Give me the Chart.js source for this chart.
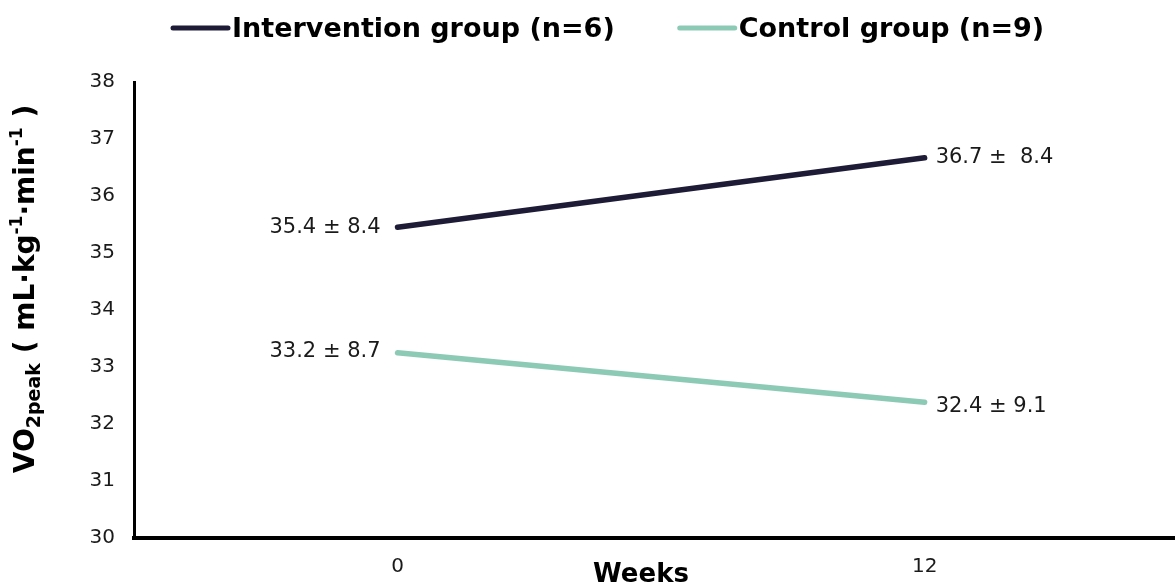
<!DOCTYPE html>
<html>
<head>
<meta charset="utf-8">
<script src="https://cdn.jsdelivr.net/npm/chart.js@4.4.0/dist/chart.umd.min.js"></script>
<style>
  html, body { margin: 0; padding: 0; background: #ffffff; }
  #wrap { width: 1175px; height: 586px; position: relative; }
</style>
</head>
<body>
<div id="wrap"><canvas id="myChart"></canvas></div>
<script>
// weeks on the x axis
var weeks = [0, 12];
// mean VO2peak per group
var intervention = [35.45, 36.67];
var control = [33.25, 32.38];
// mean ± SD labels beside each point
var interventionText = ['35.4 ± 8.4', '36.7 ±  8.4'];
var controlText = ['33.2 ± 8.7', '32.4 ± 9.1'];
var seriesNames = ['Intervention group (n=6)', 'Control group (n=9)'];
var yTicks = [30, 31, 32, 33, 34, 35, 36, 37, 38];

var darkColor = '#1d1b36';
var tealColor = '#8ccab6';
var fontName = "'DejaVu Sans', Verdana, sans-serif";

function toPoints(vals) {
    var out = [];
    for (var i = 0; i < weeks.length; i++) {
        out.push({ x: weeks[i], y: vals[i] });
    }
    return out;
}

// draws legend, axis titles and the ± labels
var extras = {
    id: 'extras',
    afterDraw: function (chart) {
        var c = chart.ctx;
        c.save();

        // legend
        c.font = 'bold 27px ' + fontName;
        c.textBaseline = 'middle';
        c.textAlign = 'left';
        var x = 173;
        var colors = [darkColor, tealColor];
        for (var i = 0; i < seriesNames.length; i++) {
            c.strokeStyle = colors[i];
            c.lineWidth = 5;
            c.lineCap = 'round';
            c.beginPath();
            c.moveTo(x, 28);
            c.lineTo(x + 55, 28);
            c.stroke();
            c.fillStyle = '#000';
            c.fillText(seriesNames[i], x + 59, 30);
            x = x + 59 + c.measureText(seriesNames[i]).width + 65;
        }

        // point labels
        c.font = '21px ' + fontName;
        c.fillStyle = '#1a1a1a';
        var groups = [
            { meta: chart.getDatasetMeta(0), text: interventionText, dy: [0, 0] },
            { meta: chart.getDatasetMeta(1), text: controlText, dy: [-1, 4] }
        ];
        groups.forEach(function (g) {
            g.meta.data.forEach(function (pt, j) {
                if (j == 0) {
                    c.textAlign = 'right';
                    c.fillText(g.text[j], pt.x - 17, pt.y + g.dy[j]);
                } else {
                    c.textAlign = 'left';
                    c.fillText(g.text[j], pt.x + 11, pt.y + g.dy[j]);
                }
            });
        });

        // x title
        c.font = 'bold 26px ' + fontName;
        c.textAlign = 'center';
        c.fillStyle = '#000';
        c.fillText('Weeks', 641, 575);

        // y title with sub/superscripts, rotated
        var parts = [
            ['VO', 'bold 28px ', 0],
            ['2peak', 'bold 19px ', 8],
            [' ( mL·kg', 'bold 28px ', 0],
            ['-1', 'bold 17px ', -9],
            ['·min', 'bold 28px ', 0],
            ['-1', 'bold 17px ', -9],
            [' )', 'bold 28px ', 0]
        ];
        var total = 0;
        parts.forEach(function (p) {
            c.font = p[1] + fontName;
            total += c.measureText(p[0]).width;
        });
        c.translate(27, 289);
        c.rotate(-Math.PI / 2);
        c.textAlign = 'left';
        c.textBaseline = 'middle';
        var px = -total / 2;
        parts.forEach(function (p) {
            c.font = p[1] + fontName;
            c.fillText(p[0], px, p[2]);
            px += c.measureText(p[0]).width;
        });
        c.restore();
    }
};

var ctx = document.getElementById('myChart');

var myChart = new Chart(ctx, {
    type: 'line',
    data: {
        datasets: [{
            label: seriesNames[0],
            data: toPoints(intervention),
            borderColor: darkColor,
            backgroundColor: darkColor,
            borderWidth: 5.5,
            borderCapStyle: 'round',
            pointRadius: 0
        }, {
            label: seriesNames[1],
            data: toPoints(control),
            borderColor: tealColor,
            backgroundColor: tealColor,
            borderWidth: 5.5,
            borderCapStyle: 'round',
            pointRadius: 0
        }]
    },
    options: {
        responsive: true,
        maintainAspectRatio: false,
        animation: false,
        layout: { padding: { top: 82, left: 0, right: 0, bottom: 0 } },
        plugins: {
            legend: { display: false },
            tooltip: { enabled: false }
        },
        scales: {
            x: {
                type: 'linear',
                min: -6,
                max: 17.7,
                afterBuildTicks: function (scale) {
                    scale.ticks = weeks.map(function (w) { return { value: w }; });
                },
                afterFit: function (scale) { scale.height = 48; },
                grid: { display: false, drawTicks: false },
                border: { display: true, color: '#000', width: 4 },
                ticks: {
                    color: '#1a1a1a',
                    padding: 17,
                    font: { family: fontName, size: 20 }
                }
            },
            y: {
                min: 30,
                max: 38,
                afterBuildTicks: function (scale) {
                    scale.ticks = yTicks.map(function (v) { return { value: v }; });
                },
                afterFit: function (scale) { scale.width = 134; },
                grid: { display: false, drawTicks: false },
                border: { display: true, color: '#000', width: 3 },
                ticks: {
                    color: '#1a1a1a',
                    padding: 19,
                    font: { family: fontName, size: 20 }
                }
            }
        }
    },
    plugins: [extras]
});
</script>
</body>
</html>
